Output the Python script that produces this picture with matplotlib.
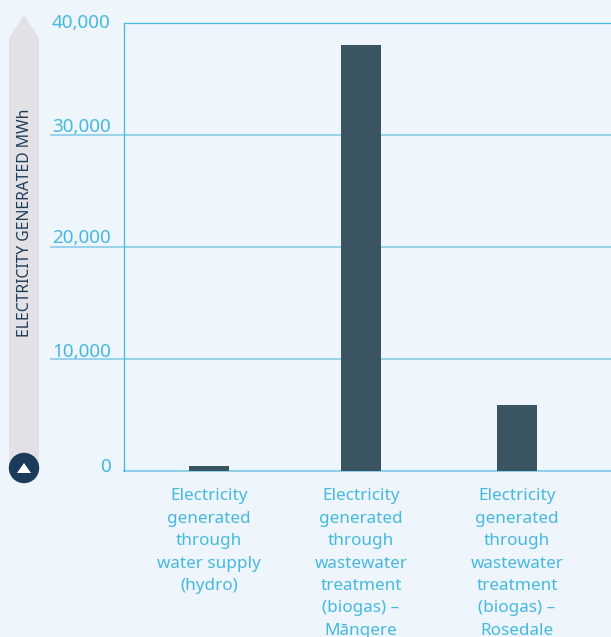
import matplotlib
matplotlib.use('Agg')
import matplotlib.pyplot as plt
from matplotlib.patches import Polygon, Circle

categories = [
    'Electricity\ngenerated\nthrough\nwater supply\n(hydro)',
    'Electricity\ngenerated\nthrough\nwastewater\ntreatment\n(biogas) –\nMāngere',
    'Electricity\ngenerated\nthrough\nwastewater\ntreatment\n(biogas) –\nRosedale',
]
values = [450, 38000, 5900]
y_ticks = [0, 10000, 20000, 30000, 40000]
y_labels = ['0', '10,000', '20,000', '30,000', '40,000']
axis_title = 'ELECTRICITY GENERATED MWh'

BG = '#eef5fc'
BLUE = '#45b9e0'
GRID = '#8fd0e8'
BAR = '#3a5462'
W, H = 611, 637

plt.rcParams['font.family'] = ['Noto Sans', 'DejaVu Sans']

fig = plt.figure(figsize=(W / 100, H / 100), dpi=100, facecolor=BG)

# decoration layer in pixel coordinates (arrow on the left)
deco = fig.add_axes([0, 0, 1, 1])
deco.set_xlim(0, W)
deco.set_ylim(H, 0)
deco.axis('off')
deco.add_patch(Polygon([(9, 470), (9, 38), (24, 15), (39, 38), (39, 470)], color='#e2e1e5', lw=0))
deco.add_patch(Circle((24, 468), 15.2, color='#1c3a5a', lw=0))
deco.add_patch(Polygon([(17, 473), (24, 463), (31, 473)], color='white', lw=0))
deco.text(25, 223, axis_title, rotation=90, ha='center', va='center',
          fontsize=11.3, fontweight='medium', color='#1f3d57')

ax = fig.add_axes([124 / W, 1 - 471 / H, (W - 124) / W, (471 - 22.5) / H])
ax.patch.set_visible(False)
ax.set_xlim(124, W)
ax.set_ylim(0, 40000)

x_pos = [209, 361, 517]
ax.bar(x_pos, values, width=40, color=BAR, zorder=3)

# gridlines run left under the tick labels, except top and baseline
for t in y_ticks[1:-1]:
    ax.axhline(t, xmin=(51 - 124) / (W - 124), xmax=1, color=GRID, lw=1.3, clip_on=False, zorder=1)
ax.axhline(40000, color=BLUE, lw=0.9, clip_on=False, zorder=1)
ax.axhline(0, color=GRID, lw=1.5, clip_on=False, zorder=2)

for s in ['top', 'right', 'bottom']:
    ax.spines[s].set_visible(False)
ax.spines['left'].set_color(BLUE)
ax.spines['left'].set_linewidth(0.9)

ax.set_yticks(y_ticks)
ax.set_yticklabels([])
ax.tick_params(axis='y', length=0)
ax.set_xticks(x_pos)
ax.set_xticklabels(categories, fontsize=12.3, color=BLUE, linespacing=1.535)
ax.tick_params(axis='x', length=0, pad=12.5)

label_shift = [3.5, 6.5, 8.5, 7.5, -0.5]
for t, lab, dy in zip(y_ticks, y_labels, label_shift):
    ax.annotate(lab, xy=(0, t), xycoords=ax.get_yaxis_transform(),
                xytext=(-9.5, dy * 0.72), textcoords='offset points',
                ha='right', va='center', fontsize=13.6, color=BLUE, annotation_clip=False)

fig.savefig('out.png', dpi=100, facecolor=BG)
